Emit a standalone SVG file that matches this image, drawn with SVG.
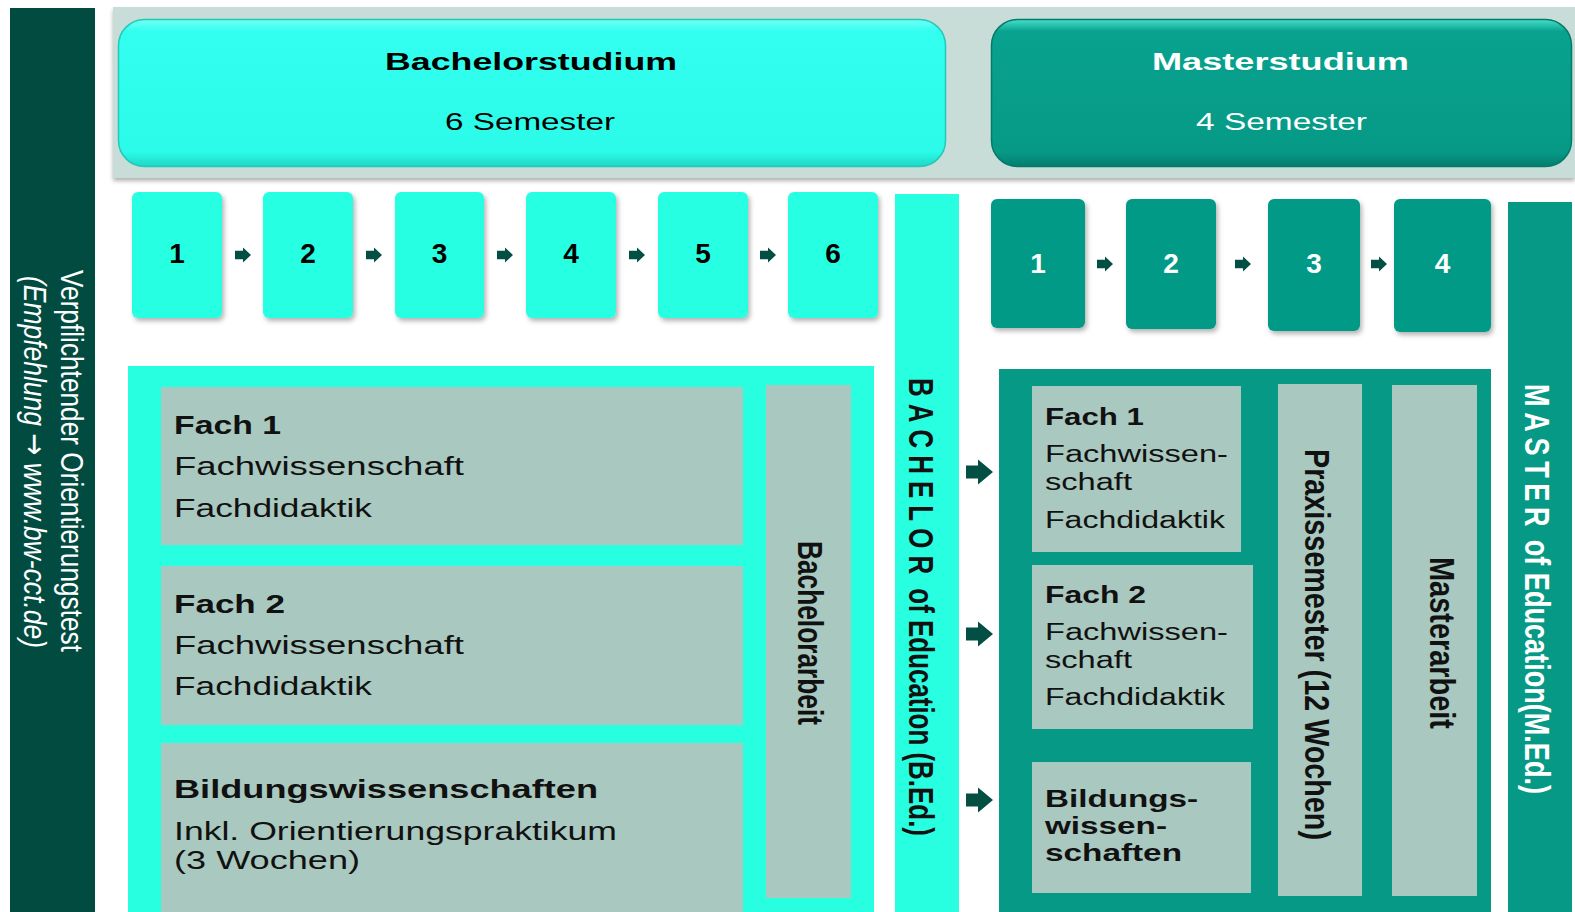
<svg xmlns="http://www.w3.org/2000/svg" xmlns:xlink="http://www.w3.org/1999/xlink" width="1575" height="912" viewBox="0 0 1575 912">
<defs>
  <style>
    text { font-family: "Liberation Sans", Arial, "DejaVu Sans", sans-serif; }
    .b { font-weight: bold; }
    .hd { font-size: 24px; }
    .dg { font-size: 28px; font-weight: bold; text-anchor: middle; }
    .bt { font-size: 26px; fill: #111; }
    .mt { font-size: 23px; fill: #111; }
    .vt { font-size: 35px; font-weight: bold; fill: #111; }
    .w { fill: #ffffff; }
    .cy { fill: #28ffe1; }
    .tl { fill: #069a86; }
    .gr { fill: #a9c8bf; }
    .ar { fill: #034f44; }
  </style>
  <linearGradient id="gB" x1="0" y1="0" x2="0" y2="1">
    <stop offset="0" stop-color="#6ffff5"/>
    <stop offset="0.08" stop-color="#33fff0"/>
    <stop offset="0.9" stop-color="#2bfbe8"/>
    <stop offset="1" stop-color="#20d7c6"/>
  </linearGradient>
  <linearGradient id="gM" x1="0" y1="0" x2="0" y2="1">
    <stop offset="0" stop-color="#45e0cc"/>
    <stop offset="0.08" stop-color="#08a28e"/>
    <stop offset="0.9" stop-color="#069a86"/>
    <stop offset="1" stop-color="#047d6d"/>
  </linearGradient>
  <filter id="sh" x="-10%" y="-10%" width="130%" height="130%">
    <feDropShadow dx="2" dy="3" stdDeviation="2.5" flood-color="#000" flood-opacity="0.3"/>
  </filter>
  <filter id="sh2" x="-5%" y="-10%" width="110%" height="130%">
    <feDropShadow dx="0" dy="3" stdDeviation="2" flood-color="#000" flood-opacity="0.3"/>
  </filter>
  <path id="sa" d="M0,-4.3 H8 V-7.5 L16,0 L8,7.5 V4.3 H0 Z"/>
  <path id="ba" d="M0,-6.5 H12 V-12.5 L27,0 L12,12.5 V6.5 H0 Z"/>
</defs>

<rect width="1575" height="912" fill="#ffffff"/>

<g id="orientierungstest">
  <rect x="10" y="8" width="85" height="904" fill="#024b40"/>
  <text class="w" font-size="32" transform="translate(61,270) rotate(90)" textLength="382" lengthAdjust="spacingAndGlyphs">Verpflichtender Orientierungstest</text>
  <text class="w" font-size="32" font-style="italic" transform="translate(24,276) rotate(90)" textLength="372" lengthAdjust="spacingAndGlyphs">(Empfehlung <tspan font-family="'DejaVu Sans', sans-serif" font-style="normal">→</tspan> www.bw-cct.de)</text>
</g>

<g id="header-band">
  <rect x="113" y="7" width="1462" height="171" fill="#c9ddd8" filter="url(#sh2)"/>
</g>

<g id="bachelor-header">
  <rect x="118.5" y="19.5" width="827" height="147" rx="26" fill="url(#gB)" stroke="#22c8b8" stroke-width="1.5"/>
  <text class="hd b" x="385" y="70" textLength="292" lengthAdjust="spacingAndGlyphs">Bachelorstudium</text>
  <text class="hd" x="445" y="130" textLength="170" lengthAdjust="spacingAndGlyphs">6 Semester</text>
</g>

<g id="master-header">
  <rect x="991.5" y="19.5" width="580" height="147" rx="26" fill="url(#gM)" stroke="#057a6b" stroke-width="1.5"/>
  <text class="hd b w" x="1152" y="70" textLength="257" lengthAdjust="spacingAndGlyphs">Masterstudium</text>
  <text class="hd w" x="1196" y="130" textLength="171" lengthAdjust="spacingAndGlyphs">4 Semester</text>
</g>

<g id="b-sem1"><rect class="cy" x="132" y="192" width="90" height="126" rx="6" filter="url(#sh)"/><text class="dg" x="177" y="263">1</text></g>
<g id="b-sem2"><rect class="cy" x="263" y="192" width="90" height="126" rx="6" filter="url(#sh)"/><text class="dg" x="308" y="263">2</text></g>
<g id="b-sem3"><rect class="cy" x="395" y="192" width="89" height="126" rx="6" filter="url(#sh)"/><text class="dg" x="439.5" y="263">3</text></g>
<g id="b-sem4"><rect class="cy" x="526" y="192" width="90" height="126" rx="6" filter="url(#sh)"/><text class="dg" x="571" y="263">4</text></g>
<g id="b-sem5"><rect class="cy" x="658" y="192" width="90" height="126" rx="6" filter="url(#sh)"/><text class="dg" x="703" y="263">5</text></g>
<g id="b-sem6"><rect class="cy" x="788" y="192" width="90" height="126" rx="6" filter="url(#sh)"/><text class="dg" x="833" y="263">6</text></g>

<g id="m-sem1"><rect class="tl" x="991" y="199" width="94" height="129" rx="6" filter="url(#sh)"/><text class="dg w" x="1038" y="273">1</text></g>
<g id="m-sem2"><rect class="tl" x="1126" y="199" width="90" height="130" rx="6" filter="url(#sh)"/><text class="dg w" x="1171" y="273">2</text></g>
<g id="m-sem3"><rect class="tl" x="1268" y="199" width="92" height="132" rx="6" filter="url(#sh)"/><text class="dg w" x="1314" y="273">3</text></g>
<g id="m-sem4"><rect class="tl" x="1394" y="199" width="97" height="133" rx="6" filter="url(#sh)"/><text class="dg w" x="1442.5" y="273">4</text></g>

<g id="bachelor-bar">
  <rect class="cy" x="895" y="194" width="64" height="718"/>
  <text class="vt" transform="translate(909,378) rotate(90)" textLength="458" lengthAdjust="spacingAndGlyphs"><tspan letter-spacing="9.5">BACHELOR</tspan> of Education (B.Ed.)</text>
</g>

<g id="master-bar">
  <rect class="tl" x="1508" y="202" width="64" height="710"/>
  <text class="vt w" transform="translate(1525,384) rotate(90)" textLength="410" lengthAdjust="spacingAndGlyphs"><tspan letter-spacing="7.3">MASTER</tspan> of Education(M.Ed.)</text>
</g>

<g id="bachelor-content">
  <rect class="cy" x="128" y="366" width="746" height="546"/>
</g>

<g id="b-fach1">
  <rect class="gr" x="161" y="387" width="582" height="158"/>
  <text class="bt b" x="174" y="434" textLength="107" lengthAdjust="spacingAndGlyphs">Fach 1</text>
  <text class="bt" x="174" y="475" textLength="290" lengthAdjust="spacingAndGlyphs">Fachwissenschaft</text>
  <text class="bt" x="174" y="517" textLength="198" lengthAdjust="spacingAndGlyphs">Fachdidaktik</text>
</g>
<g id="b-fach2">
  <rect class="gr" x="161" y="566" width="582" height="159"/>
  <text class="bt b" x="174" y="613" textLength="111" lengthAdjust="spacingAndGlyphs">Fach 2</text>
  <text class="bt" x="174" y="654" textLength="290" lengthAdjust="spacingAndGlyphs">Fachwissenschaft</text>
  <text class="bt" x="174" y="695" textLength="198" lengthAdjust="spacingAndGlyphs">Fachdidaktik</text>
</g>
<g id="b-bildung">
  <rect class="gr" x="161" y="743" width="582" height="169"/>
  <text class="bt b" x="174" y="798" textLength="424" lengthAdjust="spacingAndGlyphs">Bildungswissenschaften</text>
  <text class="bt" x="174" y="840" textLength="443" lengthAdjust="spacingAndGlyphs">Inkl. Orientierungspraktikum</text>
  <text class="bt" x="174" y="869" textLength="186" lengthAdjust="spacingAndGlyphs">(3 Wochen)</text>
</g>
<g id="b-arbeit">
  <rect class="gr" x="766" y="385" width="85" height="513"/>
  <text class="vt" transform="translate(798,541) rotate(90)" textLength="184" lengthAdjust="spacingAndGlyphs">Bachelorarbeit</text>
</g>

<g id="master-content">
  <rect class="tl" x="999" y="369" width="492" height="543"/>
</g>
<g id="m-fach1">
  <rect class="gr" x="1032" y="386" width="209" height="166"/>
  <text class="mt b" x="1045" y="425" textLength="99" lengthAdjust="spacingAndGlyphs">Fach 1</text>
  <text class="mt" x="1045" y="462" textLength="183" lengthAdjust="spacingAndGlyphs">Fachwissen-</text>
  <text class="mt" x="1045" y="490" textLength="87" lengthAdjust="spacingAndGlyphs">schaft</text>
  <text class="mt" x="1045" y="528" textLength="180" lengthAdjust="spacingAndGlyphs">Fachdidaktik</text>
</g>
<g id="m-fach2">
  <rect class="gr" x="1032" y="565" width="221" height="164"/>
  <text class="mt b" x="1045" y="603" textLength="101" lengthAdjust="spacingAndGlyphs">Fach 2</text>
  <text class="mt" x="1045" y="640" textLength="183" lengthAdjust="spacingAndGlyphs">Fachwissen-</text>
  <text class="mt" x="1045" y="668" textLength="87" lengthAdjust="spacingAndGlyphs">schaft</text>
  <text class="mt" x="1045" y="705" textLength="180" lengthAdjust="spacingAndGlyphs">Fachdidaktik</text>
</g>
<g id="m-bildung">
  <rect class="gr" x="1032" y="762" width="219" height="131"/>
  <text class="mt b" x="1045" y="807" textLength="153" lengthAdjust="spacingAndGlyphs">Bildungs-</text>
  <text class="mt b" x="1045" y="834" textLength="122" lengthAdjust="spacingAndGlyphs">wissen-</text>
  <text class="mt b" x="1045" y="861" textLength="137" lengthAdjust="spacingAndGlyphs">schaften</text>
</g>
<g id="m-praxis">
  <rect class="gr" x="1278" y="384" width="84" height="512"/>
  <text class="vt" transform="translate(1305,449) rotate(90)" textLength="391" lengthAdjust="spacingAndGlyphs">Praxissemester (12 Wochen)</text>
</g>
<g id="m-arbeit">
  <rect class="gr" x="1392" y="385" width="85" height="511"/>
  <text class="vt" transform="translate(1430,557) rotate(90)" textLength="172" lengthAdjust="spacingAndGlyphs">Masterarbeit</text>
</g>

<g id="connectors" class="ar">
  <use xlink:href="#sa" x="235" y="255"/>
  <use xlink:href="#sa" x="366" y="255"/>
  <use xlink:href="#sa" x="497" y="255"/>
  <use xlink:href="#sa" x="629" y="255"/>
  <use xlink:href="#sa" x="760" y="255"/>
  <use xlink:href="#sa" x="1097" y="264"/>
  <use xlink:href="#sa" x="1235" y="264"/>
  <use xlink:href="#sa" x="1371" y="264"/>
  <use xlink:href="#ba" x="966" y="472"/>
  <use xlink:href="#ba" x="966" y="634"/>
  <use xlink:href="#ba" x="966" y="800"/>
</g>
</svg>
